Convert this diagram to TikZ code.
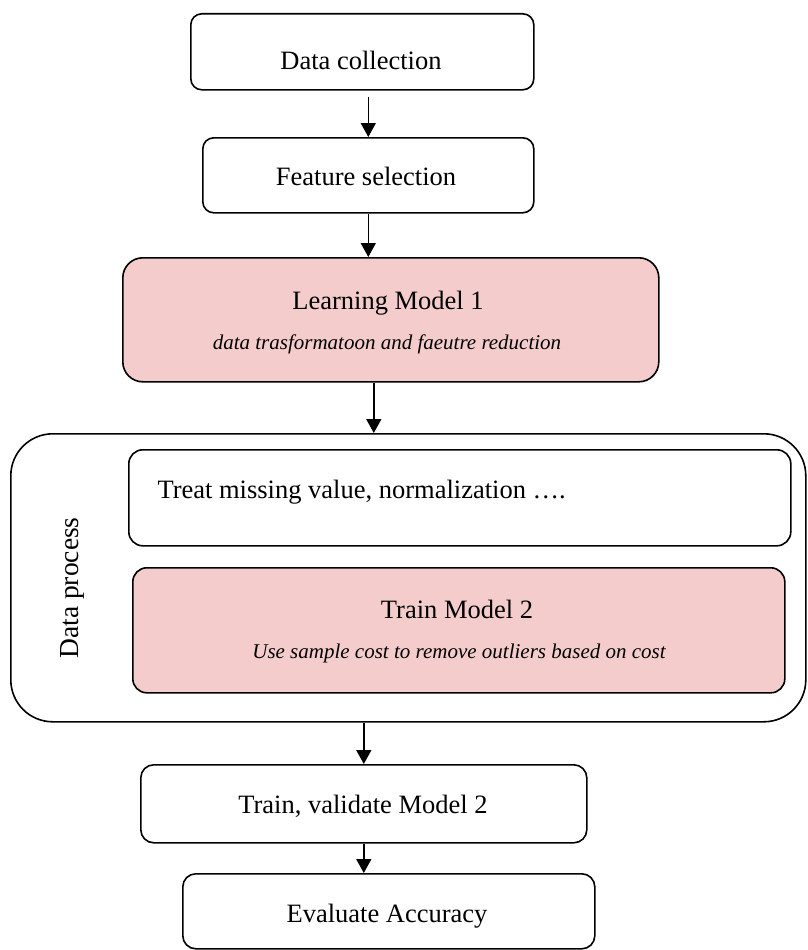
\documentclass[tikz,border=0pt]{standalone}
\usepackage{fontspec}
\setmainfont{Liberation Serif}
\usepackage{xcolor}
\usetikzlibrary{arrows.meta, positioning, calc}
\definecolor{modelpink}{HTML}{F4CCCC}

\tikzset{
  box/.style={draw=black, line width=1.6pt, rounded corners=11pt, anchor=north west, inner sep=0pt},
  modelbox/.style={box, fill=modelpink},
  arr/.style={-{Triangle[width=15pt,length=14pt]}, line width=1.6pt},
  maintext/.style={anchor=base, font=\fontsize{26.5}{30}\selectfont},
  notetext/.style={anchor=base, font=\fontsize{21}{25}\selectfont\itshape},
}

\begin{document}
\begin{tikzpicture}[x=1pt, y=-1pt]
    \useasboundingbox (0,0) rectangle (807,950);

    % Boxes
    \node[box, minimum width=343pt, minimum height=76pt] (collect) at (190,13) {};
    \node[box, minimum width=331pt, minimum height=75pt] (feature) at (202,137) {};
    \node[modelbox, rounded corners=20pt, minimum width=536pt, minimum height=124pt] (learn) at (122,257) {};
    \node[box, rounded corners=42pt, minimum width=795pt, minimum height=288pt] (process) at (10,433) {};
    \node[box, rounded corners=14pt, minimum width=662pt, minimum height=96pt] (clean) at (128,449) {};
    \node[modelbox, rounded corners=14pt, minimum width=652pt, minimum height=125pt] (trainmodel) at (132,567) {};
    \node[box, rounded corners=13pt, minimum width=446pt, minimum height=78pt] (trainval) at (140,764) {};
    \node[box, rounded corners=13pt, minimum width=412pt, minimum height=75pt] (evaluate) at (182,873) {};

    % Labels
    \node[maintext] (collecttxt) at (361,70) {Data collection};
    \node[maintext] (featuretxt) at (366,185) {Feature selection};
    \node[maintext] (learntxt) at (388,309) {Learning Model 1};
    \node[notetext] (learnnote) at (387,349) {data trasformatoon and faeutre reduction};
    \node[maintext, anchor=base west] (cleantxt) at (154,498) {Treat missing value, normalization \dots.};
    \node[maintext] (trainmodeltxt) at (457,618) {Train Model 2};
    \node[notetext] (trainmodelnote) at (459,658) {Use sample cost to remove outliers based on cost};
    \node[maintext] (trainvaltxt) at (363,813) {Train, validate Model 2};
    \node[maintext] (evaluatetxt) at (387,922) {Evaluate Accuracy};
    \node[rotate=90, font=\fontsize{27.5}{30}\selectfont] (processtxt) at (72,588) {Data process};

    % Arrows
    \draw[arr] ([yshift=-6pt]collect.south -| feature.north) -- (feature.north);
    \draw[arr] (feature.south) -- (feature.south |- learn.north);
    \draw[arr] ([xshift=-17pt]learn.south) -- ([xshift=-17pt]learn.south |- process.north);
    \draw[arr] (process.south -| trainval.north) -- (trainval.north);
    \draw[arr] (trainval.south) -- (trainval.south |- evaluate.north);
\end{tikzpicture}
\end{document}
